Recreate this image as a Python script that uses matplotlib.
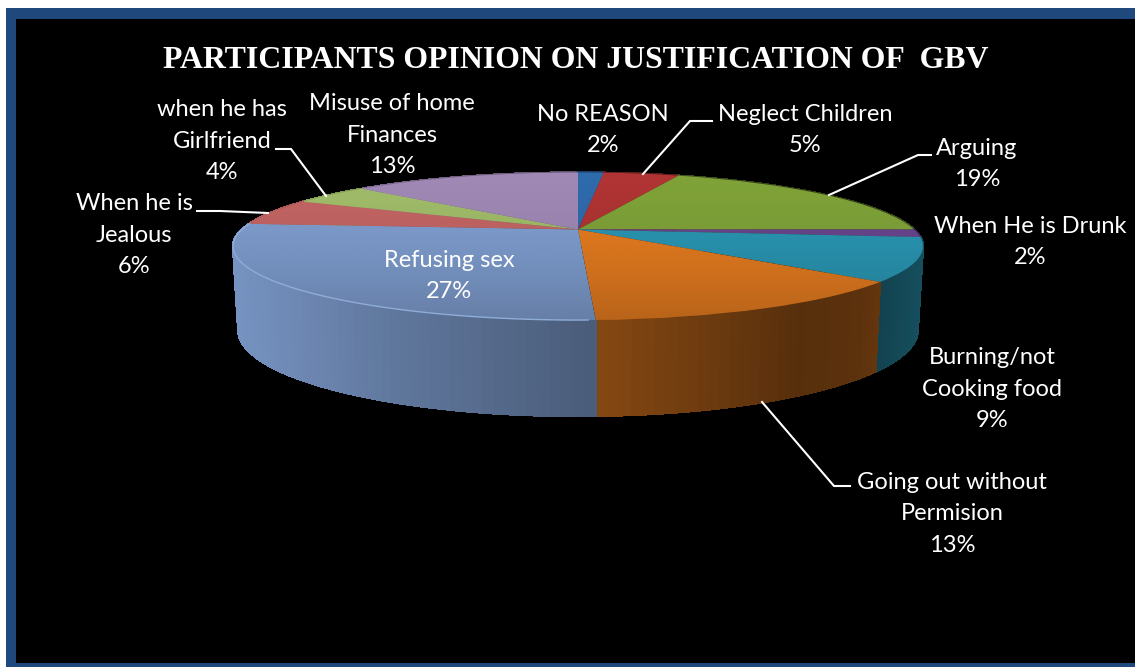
import numpy as np
import matplotlib
matplotlib.use("Agg")
import matplotlib.pyplot as plt
from matplotlib.collections import PolyCollection
from matplotlib.patches import Circle, Rectangle
from matplotlib.transforms import Transform

# ---- data -------------------------------------------------------------
title = "PARTICIPANTS OPINION ON JUSTIFICATION OF  GBV"
categories = ["No REASON", "Neglect Children", "Arguing", "When He is Drunk",
              "Burning/not\nCooking food", "Going out without\nPermision",
              "Refusing sex", "When he is\nJealous", "when he has\nGirlfriend",
              "Misuse of home\nFinances"]
shares = [1.5, 4.4, 19.1, 1.7, 9.4, 13.3, 27.0, 5.9, 4.5, 13.3]
percent_labels = ["2%", "5%", "19%", "2%", "9%", "13%", "27%", "6%", "4%", "13%"]
colors = ["#2f6aab", "#af3433", "#7fa238", "#69468f", "#2a97b4",
          "#e67c20", "#7f9ed0", "#c36564", "#a0bc69", "#a088b5"]

# ---- layout (pixel space of the picture) --------------------------------
W, H = 1135, 667
CX, CY, A, B, K = 578.0, 229.5, 336.0, 70.0, 0.227   # top disc perspective
BOT_CY, BOT_SX, BOT_SY = 310.4, 0.985, 1.167         # bottom disc
label_pos = [(603, 130), (805, 130), (977, 164), (1030, 242), (992, 389),
             (952, 514), (449, 276), (134, 235), (222, 141), (392, 135)]
leaders = [([643, 690, 712], [174, 121, 121]),
           ([829, 918, 931], [195, 155, 155]),
           ([762, 834, 850], [402, 486, 486]),
           ([268, 220, 197], [213, 211, 211]),
           ([326, 291, 276], [196, 149, 149])]


class Perspective(Transform):
    input_dims = output_dims = 2

    def transform_non_affine(self, values):
        values = np.asarray(values, float)
        u, v = values[:, 0], values[:, 1]
        w = 1 + K * v
        return np.column_stack([CX + A * u / w, CY - B * v / w])


def shade(x):
    return np.interp(x, [232, 400, 597, 800, 860, 922],
                     [0.93, 0.75, 0.58, 0.38, 0.40, 0.52])


fig = plt.figure(figsize=(W / 100, H / 100), dpi=100, facecolor="white")
ax = fig.add_axes([0, 0, 1, 1])
wedges, _ = ax.pie(shares, startangle=90, counterclock=False, colors=colors,
                   normalize=True, radius=1.0)
ax.set_aspect("auto")
ax.set_xlim(0, W)
ax.set_ylim(H, 0)
ax.axis("off")

ax.add_patch(Rectangle((6, 8), W - 6, H - 8, fc="#1f497d", ec="none", zorder=0))
ax.add_patch(Rectangle((16, 19), W - 16, 644, fc="black", ec="none", zorder=0.5))

persp = Perspective()
to_screen = persp + ax.transData

# side walls
polys, wall_cols, order = [], [], []
for wedge, col in zip(wedges, colors):
    rgb = np.array(matplotlib.colors.to_rgb(col))
    n = max(2, int((wedge.theta2 - wedge.theta1) / 1.5) + 1)
    th = np.radians(np.linspace(wedge.theta1, wedge.theta2, n))
    u, v = np.cos(th), np.sin(th)
    w = 1 + K * v
    xt = CX + A * u / w
    yt = CY - B * v / w
    xb = CX + BOT_SX * A * u / w
    yb = BOT_CY - BOT_SY * B * v / w
    for i in range(n - 1):
        polys.append([(xt[i], yt[i]), (xt[i + 1], yt[i + 1]),
                      (xb[i + 1], yb[i + 1]), (xb[i], yb[i])])
        wall_cols.append(tuple(rgb * shade((xt[i] + xt[i + 1]) / 2)))
        order.append(-(v[i] + v[i + 1]))
idx = np.argsort(order)
ax.add_collection(PolyCollection([polys[i] for i in idx],
                                 facecolors=[wall_cols[i] for i in idx],
                                 edgecolors=[wall_cols[i] for i in idx],
                                 linewidths=1.0, antialiaseds=False, zorder=1))

# top surface
for wedge in wedges:
    wedge.set_transform(to_screen)
    wedge.set_edgecolor("none")
    wedge.set_zorder(2)
    wedge.set_clip_on(False)

# top surface shading towards the viewer
grad = np.zeros((150, 2, 4))
grad[..., 3] = (np.linspace(0.0, 1.0, 150) ** 1.6 * 0.2)[:, None]
im = ax.imshow(grad, extent=[CX - 350, CX + 350, 321, 171], aspect="auto",
               zorder=2.5, interpolation="bilinear")
disc = Circle((0, 0), 1.0, transform=to_screen, fc="none", ec="none")
ax.add_patch(disc)
im.set_clip_path(disc)
ax.set_xlim(0, W)
ax.set_ylim(H, 0)

# bevel on the front rim of the largest slice
big = wedges[int(np.argmax(shares))]
th = np.radians(np.linspace(big.theta1, big.theta2 - 1, 120))
ax.plot(CX + A * np.cos(th) / (1 + K * np.sin(th)),
        CY - B * np.sin(th) / (1 + K * np.sin(th)),
        color="#8fadd9", lw=1.0, zorder=3)

# leaders
for xs, ys in leaders:
    ax.plot(xs, ys, color="white", lw=1.5, zorder=4, solid_joinstyle="miter")

# texts
for name, pct, (x, y) in zip(categories, percent_labels, label_pos):
    ax.text(x, y, f"{name}\n{pct}", color="white", ha="center", va="center",
            family="Lato", fontsize=17, linespacing=1.62, zorder=5)
ax.text(576, 60, title, color="white", ha="center", va="center",
        family="Liberation Serif", weight="bold", fontsize=22.9, zorder=5)

fig.savefig("out.png", dpi=100, facecolor="white")
